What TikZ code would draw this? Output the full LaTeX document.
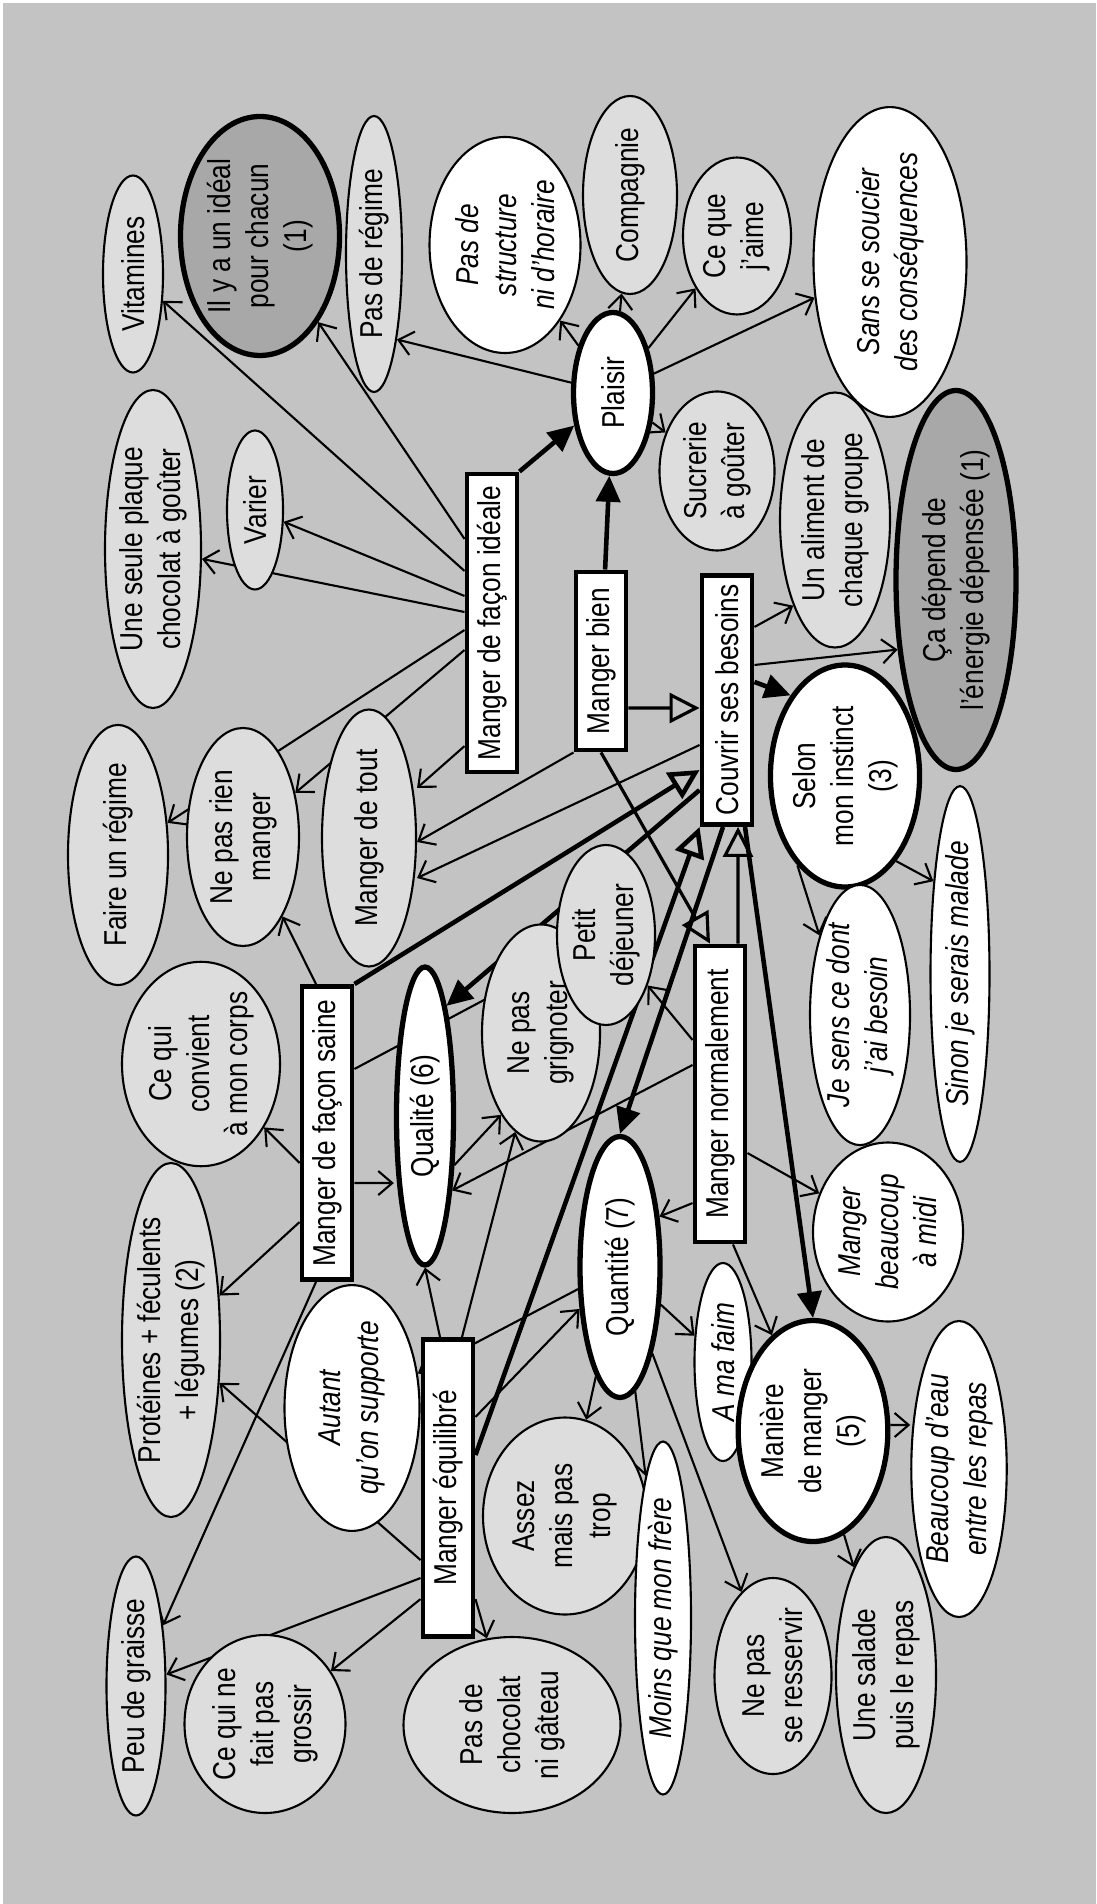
\documentclass[tikz,border=0pt]{standalone}
\usepackage{fontspec}
\setmainfont{Liberation Sans}[FakeStretch=0.83]
\usepackage{xcolor}
\usepackage{tikz}
\usetikzlibrary{arrows.meta,shapes.geometric,backgrounds}
\definecolor{bggray}{RGB}{195,195,195}
\definecolor{leafgray}{RGB}{221,221,221}
\definecolor{keygray}{RGB}{168,168,168}
\newcommand{\mapfont}{\fontsize{9}{10.8}\selectfont}
\tikzset{
  box/.style={rectangle, draw=black, line width=1.4pt, fill=white, rotate=90,
              minimum height=5mm, inner sep=1pt, align=center, font=\mapfont},
  leaf/.style={ellipse, draw=black, line width=0.6pt, fill=leafgray, rotate=90,
               inner sep=0pt, align=center, font=\mapfont},
  quote/.style={leaf, fill=white, font=\mapfont\itshape},
  topic/.style={leaf, fill=white, line width=1.5pt},
  note/.style={leaf, fill=keygray, line width=1.5pt},
  sz/.style 2 args={minimum width=#1*0.01cm, minimum height=#2*0.01cm},
  arr/.style={-{Straight Barb[length=1.4mm,width=2.4mm]}, line width=0.6pt},
  bigarr/.style={-{Triangle[length=2.6mm,width=2.4mm]}, line width=1.3pt},
  isa/.style={-{Triangle[open,length=3mm,width=3mm]}, line width=0.9pt},
}
\begin{document}
\begin{tikzpicture}[x=0.01cm, y=-0.01cm]
  \useasboundingbox (0,0) rectangle (1096,1904);
  % boxes (rotated: .north is the left side, .south the right side,
  % .east the top, .west the bottom)
  \node[box, sz={298}{50}] (idealBox) at (492,623) {Manger de façon idéale};
  \node[box, sz={178}{50}] (bienBox) at (601,661) {Manger bien};
  \node[box, sz={249}{50}] (besoinsBox) at (727,700) {Couvrir ses besoins};
  \node[box, sz={293}{50}] (saineBox) at (327,1133) {Manger de façon saine};
  \node[box, sz={296}{50}] (normalBox) at (720,1094) {Manger normalement};
  \node[box, sz={297}{50}] (equilBox) at (448,1488) {Manger équilibré};
  % ellipses
  \node[leaf, sz={197}{60}] (vitamines) at (133,274) {Vitamines};
  \node[note, sz={239}{159}] (ideal1) at (260,236) {Il y a un idéal\\pour chacun\\(1)};
  \node[leaf, sz={276}{56}] (pasregime) at (374,254) {Pas de régime};
  \node[quote, sz={216}{151}] (structure) at (505,245) {Pas de\\structure\\ni d'horaire};
  \node[leaf, sz={198}{94}] (compagnie) at (630,195) {Compagnie};
  \node[leaf, sz={157}{108}] (jaime) at (737,236) {Ce que\\j'aime};
  \node[quote, sz={296}{153}] (soucier) at (890,262) {Sans se soucier\\des conséquences};
  \node[topic, sz={161}{79}] (plaisir) at (613,393) {Plaisir};
  \node[leaf, sz={159}{115}] (sucrerie) at (717,471) {Sucrerie\\à goûter};
  \node[leaf, sz={318}{96}] (plaque) at (153,549) {Une seule plaque\\chocolat à goûter};
  \node[leaf, sz={159}{56}] (varier) at (255,510) {Varier};
  \node[leaf, sz={255}{110}] (aliment) at (835,520) {Un aliment de\\chaque groupe};
  \node[note, sz={379}{120}] (energie) at (956,580) {Ça dépend de\\l'énergie dépensée (1)};
  \node[leaf, sz={257}{100}] (regime) at (118,855) {Faire un régime};
  \node[leaf, sz={218}{112}] (rien) at (243,837) {Ne pas rien\\manger};
  \node[leaf, sz={257}{94}] (tout) at (369,838) {Manger de tout};
  \node[topic, sz={222}{140}] (instinct) at (845,776) {Selon\\mon instinct\\(3)};
  \node[leaf, sz={198}{158}] (corps) at (201,1064) {Ce qui\\convient\\à mon corps};
  \node[topic, sz={298}{57}] (qualite) at (425,1116) {Qualité (6)};
  \node[leaf, sz={217}{118}] (grignoter) at (541,1033) {Ne pas\\grignoter};
  \node[leaf, sz={180}{98}] (petitdej) at (606,935) {Petit\\déjeuner};
  \node[quote, sz={255}{100}] (jesens) at (860,1015) {Je sens ce dont\\j'ai besoin};
  \node[quote, sz={374}{59}] (sinon) at (960,974) {Sinon je serais malade};
  \node[quote, sz={179}{150}] (midi) at (888,1232) {Manger\\beaucoup\\à midi};
  \node[topic, sz={261}{80}] (quantite) at (620,1267) {Quantité (7)};
  \node[leaf, sz={354}{98}] (proteines) at (171,1340) {Protéines + féculents\\+ légumes (2)};
  \node[quote, sz={217}{135}] (autant) at (352,1408) {Autant\\qu'on supporte};
  \node[leaf, sz={197}{164}] (assez) at (565,1516) {Assez\\mais pas\\trop};
  \node[quote, sz={198}{57}] (faim) at (723,1362) {A ma faim};
  \node[topic, sz={221}{117}] (maniere) at (813,1431) {Manière\\de manger\\(5)};
  \node[quote, sz={296}{94}] (eau) at (959,1469) {Beaucoup d'eau\\entre les repas};
  \node[leaf, sz={276}{100}] (salade) at (886,1675) {Une salade\\puis le repas};
  \node[leaf, sz={196}{117}] (resservir) at (773,1676) {Ne pas\\se resservir};
  \node[quote, sz={353}{56}] (frere) at (663,1618) {Moins que mon frère};
  \node[leaf, sz={176}{217}] (chocolat) at (512,1725) {Pas de\\chocolat\\ni gâteau};
  \node[leaf, sz={178}{161}] (grossir) at (265,1724) {Ce qui ne\\fait pas\\grossir};
  \node[leaf, sz={259}{59}] (graisse) at (136,1686) {Peu de graisse};
  \begin{pgfonlayer}{background}
    \fill[white] (0,0) rectangle (1096,1904);
    \fill[bggray] (3,3) rectangle (1096,1904);
    % manger de facon ideale
    \draw[arr] ([yshift=0.52cm]idealBox.north) -- (vitamines);
    \draw[arr] ([yshift=0.84cm]idealBox.north) -- (ideal1);
    \draw[arr] ([yshift=0.27cm]idealBox.north) -- (varier);
    \draw[arr] ([yshift=0.11cm]idealBox.north) -- (plaque);
    \draw[arr] ([yshift=-0.07cm]idealBox.north) -- (regime);
    \draw[arr] ([yshift=-0.27cm]idealBox.north) -- (rien);
    \draw[arr] ([yshift=-1.23cm]idealBox.north) -- ([yshift=0.5cm]tout.south);
    \draw[bigarr] (idealBox.south east) -- (plaisir);
    % plaisir
    \draw[arr] (plaisir) -- (pasregime.195);
    \draw[arr] (plaisir) -- (structure);
    \draw[arr] (plaisir) -- (compagnie);
    \draw[arr] (plaisir) -- (jaime);
    \draw[arr] (plaisir) -- (soucier);
    \draw[arr] (plaisir) -- (sucrerie);
    % manger bien
    \draw[bigarr] (bienBox) -- (plaisir);
    \draw[isa] ([yshift=-0.47cm]bienBox.south) -- ([yshift=-0.08cm]besoinsBox.north);
    \draw[arr] (bienBox.north west) -- ([yshift=-0.04cm]tout.south);
    \draw[isa] (bienBox.west) -- ([xshift=-0.1cm]normalBox.east);
    % couvrir ses besoins
    \draw[arr] ([yshift=-0.45cm]besoinsBox.north) -- ([yshift=-0.4cm]tout.south);
    \draw[arr] ([yshift=0.73cm]besoinsBox.south) -- (aliment.154);
    \draw[arr] ([yshift=0.35cm]besoinsBox.south) -- (energie.140);
    \draw[bigarr] ([yshift=0.18cm]besoinsBox.south) -- (instinct.34);
    \draw[bigarr] ([yshift=-0.9cm]besoinsBox.north) -- (qualite.349);
    \draw[bigarr] ([xshift=-0.04cm]besoinsBox.west) -- (quantite.east);
    \draw[bigarr] ([xshift=0.18cm]besoinsBox.west) -- (maniere.east);
    \draw[arr] (instinct.152) -- (jesens.27);
    \draw[arr] (instinct.211) -- (sinon.16);
    % manger de facon saine
    \draw[isa, line width=1.3pt] (saineBox.south east) -- ([yshift=-0.7cm]besoinsBox.north);
    \draw[arr] ([yshift=-0.3cm]saineBox.north) -- (corps);
    \draw[arr] ([xshift=-0.11cm]saineBox.east) -- (rien);
    \draw[arr] ([yshift=-0.89cm]saineBox.north) -- (proteines);
    \draw[arr] ([xshift=-0.11cm]saineBox.west) -- (graisse);
    \draw[arr] ([yshift=-0.5cm]saineBox.south) -- ([yshift=-0.67cm]qualite.north);
    \draw[arr] ([yshift=0.64cm]saineBox.south) -- (petitdej);
    \draw[arr] (qualite.211) -- (grignoter.154);
    % manger normalement
    \draw[isa] ([xshift=0.18cm]normalBox.east) -- ([xshift=0.11cm]besoinsBox.west);
    \draw[arr] ([yshift=0.54cm]normalBox.north) -- (petitdej);
    \draw[arr] ([yshift=0.29cm]normalBox.north) -- (qualite.200);
    \draw[arr] ([yshift=-1.09cm]normalBox.north) -- (quantite.322);
    \draw[arr] ([xshift=0.13cm]normalBox.west) -- (maniere);
    \draw[arr] ([yshift=-0.59cm]normalBox.south) -- (midi);
    % manger equilibre
    \draw[isa, line width=1.3pt] ([yshift=0.33cm]equilBox.south) -- (besoinsBox.north west);
    \draw[arr] ([yshift=-0.72cm]equilBox.north) -- (proteines);
    \draw[arr] ([yshift=-0.9cm]equilBox.north) -- (graisse);
    \draw[arr] ([yshift=-1.11cm]equilBox.north) -- (grossir);
    \draw[arr] ([yshift=-1.11cm]equilBox.south) -- (chocolat);
    \draw[arr] ([xshift=-0.08cm]equilBox.east) -- (qualite.west);
    \draw[arr] ([xshift=0.14cm]equilBox.east) -- (grignoter);
    \draw[arr] ([yshift=0.71cm]equilBox.south) -- (quantite);
    % quantite et maniere
    \draw[arr] (quantite) -- (autant);
    \draw[arr] (quantite) -- (assez);
    \draw[arr] (quantite) -- (frere);
    \draw[arr] (quantite) -- (resservir);
    \draw[arr] (quantite) -- (faim);
    \draw[arr] ([yshift=0.06cm]maniere.south) -- ([yshift=0.44cm]eau.north);
    \draw[arr] (maniere) -- (salade);
  \end{pgfonlayer}
\end{tikzpicture}
\end{document}
